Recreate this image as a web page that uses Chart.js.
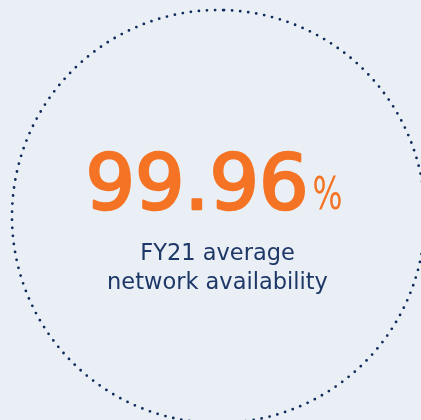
<!DOCTYPE html>
<html>
<head>
<meta charset="utf-8">
<script src="https://cdn.jsdelivr.net/npm/chart.js@4"></script>
<style>
  html, body { margin: 0; padding: 0; background: #e9eff4; overflow: hidden; }
  #wrap { position: absolute; left: 0; top: 0; width: 430px; height: 430px; }
</style>
</head>
<body>
<div id="wrap"><canvas id="availChart"></canvas></div>
<script>
const headlineValue = '99.96';
const headlineUnit = '%';
const captionLines = ['FY21 average', 'network availability'];
const ringValues = [100];

const ORANGE = '#f47324';
const NAVY = '#1d3767';
const DOTS = '#0f2b5b';

// draws the dotted ring + the text, using the arc the doughnut laid out
const calloutPlugin = {
  id: 'callout',
  afterDatasetsDraw(chart) {
    const arc = chart.getDatasetMeta(0).data[0];
    if (!arc) return;
    const { x, y, outerRadius } = arc.getProps(['x', 'y', 'outerRadius'], true);
    const ctx = chart.ctx;

    ctx.save();
    ctx.strokeStyle = DOTS;
    ctx.lineWidth = 2.8;
    ctx.lineCap = 'round';
    ctx.setLineDash([0, 8.1]);
    ctx.beginPath();
    ctx.arc(x, y, outerRadius, -Math.PI / 2 + 0.027, Math.PI * 1.5 + 0.027);
    ctx.stroke();
    ctx.restore();

    // big number - stretched a little to the wider look of the original face
    ctx.save();
    ctx.fillStyle = ORANGE;
    ctx.strokeStyle = ORANGE;
    ctx.lineJoin = 'round';
    ctx.textBaseline = 'alphabetic';
    ctx.textAlign = 'left';
    ctx.font = '77px "DejaVu Sans"';
    const mainRaw = ctx.measureText(headlineValue).width;
    const mainW = 223;
    ctx.font = '44px "DejaVu Sans"';
    const unitRaw = ctx.measureText(headlineUnit).width;
    const unitW = 30;
    const gap = 4;
    const left = x - 133;
    const base = y - 7.5;
    ctx.save();
    ctx.translate(left, base);
    ctx.scale(mainW / mainRaw, 1);
    ctx.font = '77px "DejaVu Sans"';
    ctx.lineWidth = 2.6;
    ctx.fillText(headlineValue, 0, 0);
    ctx.strokeText(headlineValue, 0, 0);
    ctx.restore();
    ctx.translate(left + mainW + gap, base);
    ctx.scale(unitW / unitRaw, 1);
    ctx.font = '44px "DejaVu Sans"';
    ctx.fillText(headlineUnit, 0, 0);
    ctx.restore();

    // caption
    ctx.save();
    ctx.fillStyle = NAVY;
    ctx.textAlign = 'center';
    ctx.textBaseline = 'alphabetic';
    ctx.font = '22.5px "DejaVu Sans"';
    captionLines.forEach((line, i) => {
      ctx.fillText(line, x - 1, y + 43 + i * 29);
    });
    ctx.restore();
  }
};

new Chart(document.getElementById('availChart'), {
  type: 'doughnut',
  data: {
    labels: ['availability'],
    datasets: [{
      data: ringValues,
      backgroundColor: 'rgba(0,0,0,0)',
      borderWidth: 0
    }]
  },
  options: {
    responsive: true,
    maintainAspectRatio: false,
    animation: false,
    cutout: '99%',
    layout: { padding: { left: 12, top: 10, right: 5, bottom: 7 } },
    plugins: {
      legend: { display: false },
      tooltip: { enabled: false }
    }
  },
  plugins: [calloutPlugin]
});
</script>
</body>
</html>
